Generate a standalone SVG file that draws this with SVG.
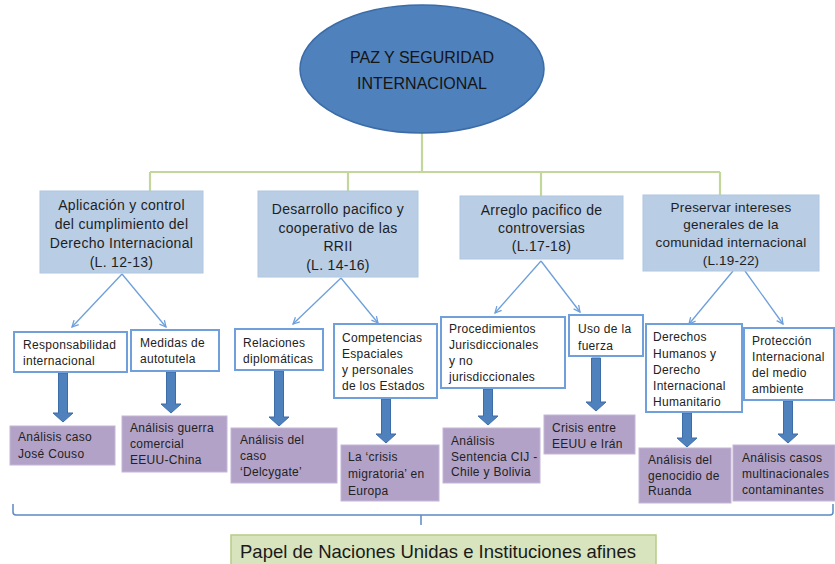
<svg xmlns="http://www.w3.org/2000/svg" width="835" height="564" viewBox="0 0 835 564">
<style>
.top{fill:#b9cde5;stroke:#b0c6e0;stroke-width:1}
.mid{fill:#ffffff;stroke:#6fa0dc;stroke-width:2}
.pur{fill:#b3a2c7;stroke:#c4b6d6;stroke-width:1}
.tt{font-family:"Liberation Sans",Arial,sans-serif;font-size:14px;letter-spacing:0.3px;fill:#1e1e1e;text-anchor:middle}
.tt4{font-family:"Liberation Sans",Arial,sans-serif;font-size:13.5px;letter-spacing:0.2px;fill:#1e1e1e;text-anchor:middle}
.st{font-family:"Liberation Sans",Arial,sans-serif;font-size:12px;letter-spacing:0.3px;fill:#222}
.el{font-family:"Liberation Sans",Arial,sans-serif;font-size:16px;fill:#141414;text-anchor:middle}
.thin{fill:none;stroke:#6d9fdc;stroke-width:1.3;marker-end:url(#v)}
.green{fill:none;stroke:#c3d69b;stroke-width:2.2}
.big{fill:#4f81bd;stroke:#3d6da8;stroke-width:1}
.brk{fill:none;stroke:#5b8ac4;stroke-width:1.5}
</style>
<defs>
<marker id="v" viewBox="0 0 10 10" refX="9" refY="5" markerWidth="8" markerHeight="8" markerUnits="userSpaceOnUse" orient="auto">
<path d="M1,1 L9,5 L1,9" fill="none" stroke="#6d9fdc" stroke-width="1.6"/>
</marker>
</defs>
<rect width="835" height="564" fill="#ffffff"/>

<g id="connectors">
<path class="green" d="M422,133 V172 M150,172 H720 M150,172 V191 M348,172 V191 M541,172 V196 M720,172 V195"/>
<path class="thin" d="M122,274 L72,327"/>
<path class="thin" d="M122,274 L166,327"/>
<path class="thin" d="M341,278 L293,324"/>
<path class="thin" d="M341,278 L378,323"/>
<path class="thin" d="M541,261 L495,313"/>
<path class="thin" d="M541,261 L580,312"/>
<path class="thin" d="M733,271 L689,324"/>
<path class="thin" d="M745,271 L783,324"/>
<path class="big" d="M58.5,373 H67.5 V413 H73 L63,422 L53,413 H58.5 Z"/>
<path class="big" d="M166.5,372 H175.5 V404 H181 L171,413 L161,404 H166.5 Z"/>
<path class="big" d="M274.5,371 H283.5 V417 H289 L279,426 L269,417 H274.5 Z"/>
<path class="big" d="M381.5,399 H390.5 V434 H396 L386,443 L376,434 H381.5 Z"/>
<path class="big" d="M483.5,389 H492.5 V416 H498 L488,425 L478,416 H483.5 Z"/>
<path class="big" d="M591.5,358 H600.5 V402 H606 L596,411 L586,402 H591.5 Z"/>
<path class="big" d="M682.5,413 H691.5 V438 H697 L687,447 L677,438 H682.5 Z"/>
<path class="big" d="M783.5,401 H792.5 V434 H798 L788,443 L778,434 H783.5 Z"/>
<path class="brk" d="M13,504 V512 Q13,515 16,515 H830 Q833,515 833,512 V504 M421,515 V525"/>
</g>

<g id="root">
<ellipse cx="422" cy="69" rx="122" ry="64" fill="#4f81bd" stroke="#3b6ca8" stroke-width="1.5"/>
<text class="el" x="422" y="63">PAZ Y SEGURIDAD</text>
<text class="el" x="422" y="89">INTERNACIONAL</text>
</g>

<g id="n-aplicacion">
<rect class="top" x="40" y="191" width="163" height="82"/>
<text class="tt" x="121.5" y="210">Aplicación y control</text>
<text class="tt" x="121.5" y="229">del cumplimiento del</text>
<text class="tt" x="121.5" y="248">Derecho Internacional</text>
<text class="tt" x="121.5" y="267">(L. 12-13)</text>
</g>
<g id="n-desarrollo">
<rect class="top" x="258" y="191" width="160" height="86"/>
<text class="tt" x="338" y="214">Desarrollo pacifico y</text>
<text class="tt" x="338" y="233">cooperativo de las</text>
<text class="tt" x="338" y="251">RRII</text>
<text class="tt" x="338" y="270">(L. 14-16)</text>
</g>
<g id="n-arreglo">
<rect class="top" x="460" y="196" width="163" height="63"/>
<text class="tt" x="541.5" y="215">Arreglo pacifico de</text>
<text class="tt" x="541.5" y="233">controversias</text>
<text class="tt" x="541.5" y="251">(L.17-18)</text>
</g>
<g id="n-preservar">
<rect class="top" x="643" y="195" width="176" height="76"/>
<text class="tt4" x="731" y="212">Preservar intereses</text>
<text class="tt4" x="731" y="229">generales de la</text>
<text class="tt4" x="731" y="247">comunidad internacional</text>
<text class="tt4" x="731" y="265">(L.19-22)</text>
</g>

<g id="n-responsabilidad">
<rect class="mid" x="14" y="332" width="113" height="40"/>
<text class="st" x="23" y="349">Responsabilidad</text>
<text class="st" x="23" y="365">internacional</text>
</g>
<g id="n-medidas">
<rect class="mid" x="131" y="330" width="88" height="41"/>
<text class="st" x="140" y="347">Medidas de</text>
<text class="st" x="140" y="363">autotutela</text>
</g>
<g id="n-relaciones">
<rect class="mid" x="235" y="329" width="88" height="41"/>
<text class="st" x="243" y="347">Relaciones</text>
<text class="st" x="243" y="363">diplomáticas</text>
</g>
<g id="n-competencias">
<rect class="mid" x="334" y="324" width="103" height="74"/>
<text class="st" x="342" y="342">Competencias</text>
<text class="st" x="342" y="358">Espaciales</text>
<text class="st" x="342" y="374">y personales</text>
<text class="st" x="342" y="390">de los Estados</text>
</g>
<g id="n-procedimientos">
<rect class="mid" x="441" y="317" width="124" height="71"/>
<text class="st" x="449" y="333">Procedimientos</text>
<text class="st" x="449" y="349">Jurisdiccionales</text>
<text class="st" x="449" y="365">y no</text>
<text class="st" x="449" y="381">jurisdiccionales</text>
</g>
<g id="n-uso">
<rect class="mid" x="569" y="315" width="74" height="41"/>
<text class="st" x="578" y="333">Uso de la</text>
<text class="st" x="578" y="350">fuerza</text>
</g>
<g id="n-derechos">
<rect class="mid" x="646" y="324" width="96" height="88"/>
<text class="st" x="653" y="341">Derechos</text>
<text class="st" x="653" y="358">Humanos y</text>
<text class="st" x="653" y="374">Derecho</text>
<text class="st" x="653" y="390">Internacional</text>
<text class="st" x="653" y="406">Humanitario</text>
</g>
<g id="n-proteccion">
<rect class="mid" x="744" y="328" width="90" height="72"/>
<text class="st" x="752" y="345">Protección</text>
<text class="st" x="752" y="361">Internacional</text>
<text class="st" x="752" y="377">del medio</text>
<text class="st" x="752" y="393">ambiente</text>
</g>

<g id="n-couso">
<rect class="pur" x="10" y="426" width="105" height="39"/>
<text class="st" x="18" y="441">Análisis caso</text>
<text class="st" x="18" y="458">José Couso</text>
</g>
<g id="n-guerra">
<rect class="pur" x="122" y="416" width="105" height="56"/>
<text class="st" x="130" y="432">Análisis guerra</text>
<text class="st" x="130" y="448">comercial</text>
<text class="st" x="130" y="464">EEUU-China</text>
</g>
<g id="n-delcygate">
<rect class="pur" x="231" y="428" width="106" height="55"/>
<text class="st" x="240" y="444">Análisis del</text>
<text class="st" x="240" y="460">caso</text>
<text class="st" x="240" y="476">‘Delcygate’</text>
</g>
<g id="n-migratoria">
<rect class="pur" x="341" y="445" width="98" height="56"/>
<text class="st" x="348" y="461">La ‘crisis</text>
<text class="st" x="348" y="478">migratoria’ en</text>
<text class="st" x="348" y="495">Europa</text>
</g>
<g id="n-sentencia">
<rect class="pur" x="443" y="428" width="97" height="55"/>
<text class="st" x="451" y="445">Análisis</text>
<text class="st" x="451" y="461" letter-spacing="0">Sentencia CIJ -</text>
<text class="st" x="451" y="476" letter-spacing="0">Chile y Bolivia</text>
</g>
<g id="n-iran">
<rect class="pur" x="544" y="415" width="91" height="39"/>
<text class="st" x="552" y="432">Crisis entre</text>
<text class="st" x="552" y="448">EEUU e Irán</text>
</g>
<g id="n-ruanda">
<rect class="pur" x="639" y="448" width="92" height="55"/>
<text class="st" x="648" y="464">Análisis del</text>
<text class="st" x="648" y="480">genocidio de</text>
<text class="st" x="648" y="495">Ruanda</text>
</g>
<g id="n-multinacionales">
<rect class="pur" x="733" y="445" width="102" height="56"/>
<text class="st" x="742" y="462">Análisis casos</text>
<text class="st" x="742" y="478">multinacionales</text>
<text class="st" x="742" y="494">contaminantes</text>
</g>

<g id="n-papel">
<rect x="231" y="535" width="425" height="40" fill="#d7e4bd" stroke="#b7cc86" stroke-width="1.5"/>
<text x="240" y="558" font-family="'Liberation Sans',Arial,sans-serif" font-size="18.5px" fill="#1a1a1a">Papel de Naciones Unidas e Instituciones afines</text>
</g>
</svg>
